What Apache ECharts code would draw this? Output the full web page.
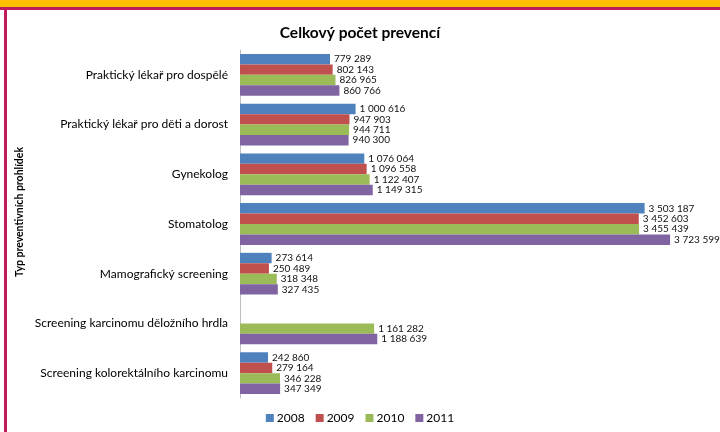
<!DOCTYPE html>
<html><head><meta charset="utf-8">
<script src="https://cdn.jsdelivr.net/npm/echarts@6/dist/echarts.min.js"></script>
<style>html,body{margin:0;padding:0;background:#fff}#c{width:720px;height:432px}</style>
</head><body><div id="c"></div>
<script>
const categories = [
  'Praktický lékař pro dospělé',
  'Praktický lékař pro děti a dorost',
  'Gynekolog',
  'Stomatolog',
  'Mamografický screening',
  'Screening karcinomu děložního hrdla',
  'Screening kolorektálního karcinomu'
];
const years = ['2008', '2009', '2010', '2011'];
const v2008 = [779289, 1000616, 1076064, 3503187, 273614, null, 242860];
const v2009 = [802143, 947903, 1096558, 3452603, 250489, null, 279164];
const v2010 = [826965, 944711, 1122407, 3455439, 318348, 1161282, 346228];
const v2011 = [860766, 940300, 1149315, 3723599, 327435, 1188639, 347349];
const colors = ['#4f81bd', '#c0504d', '#9bbb59', '#8064a2'];
const FONT = 'Lato';

function fmt(v) {
  return String(v).replace(/\B(?=(\d{3})+(?!\d))/g, ' ');
}
const seriesData = [v2008, v2009, v2010, v2011];
const chart = echarts.init(document.getElementById('c'), null, {renderer: 'canvas'});
chart.setOption({
  animation: false,
  textStyle: {fontFamily: FONT},
  title: {
    text: 'Celkový počet prevencí', left: 'center', top: 20,
    textStyle: {fontFamily: FONT, fontSize: 15.5, fontWeight: 'bold', color: '#000'}
  },
  legend: {
    bottom: 3, left: 'center', itemWidth: 8, itemHeight: 8, itemGap: 11,
    icon: 'rect',
    textStyle: {fontFamily: FONT, fontSize: 12, color: '#000', padding: [0, 0, 0, -2]},
    data: years
  },
  grid: {left: 240, top: 50, width: 462, height: 348, containLabel: false},
  xAxis: {
    type: 'value', min: 0, max: 4000000, show: false
  },
  yAxis: {
    type: 'category', data: categories, inverse: true,
    axisLine: {show: true, lineStyle: {color: '#bfbfbf', width: 1}},
    axisTick: {show: false},
    axisLabel: {fontFamily: FONT, fontSize: 12, color: '#000', margin: 12}
  },
  series: years.map((y, i) => ({
    name: y, type: 'bar', data: seriesData[i],
    itemStyle: {color: colors[i]},
    barGap: '0%', barCategoryGap: '16%',
    label: {
      show: true, position: 'right', distance: 4,
      fontFamily: FONT, fontSize: 10, color: '#111',
      formatter: p => p.value == null ? '' : fmt(p.value)
    }
  })),
  graphic: [
    {type: 'rect', shape: {x: 0, y: 0, width: 720, height: 7}, style: {fill: '#ffc000'}, silent: true},
    {type: 'rect', shape: {x: 0, y: 7, width: 720, height: 3}, style: {fill: '#be1a5c'}, silent: true},
    {type: 'rect', shape: {x: 4, y: 7, width: 3, height: 425}, style: {fill: '#be1a5c'}, silent: true},
    {type: 'text', x: 20, y: 212, rotation: Math.PI / 2, silent: true,
     style: {text: 'Typ preventivních prohlídek', fontFamily: FONT, fontSize: 10.5, fontWeight: 'bold',
             fill: '#000', align: 'center', verticalAlign: 'middle'}}
  ]
});
</script></body></html>
